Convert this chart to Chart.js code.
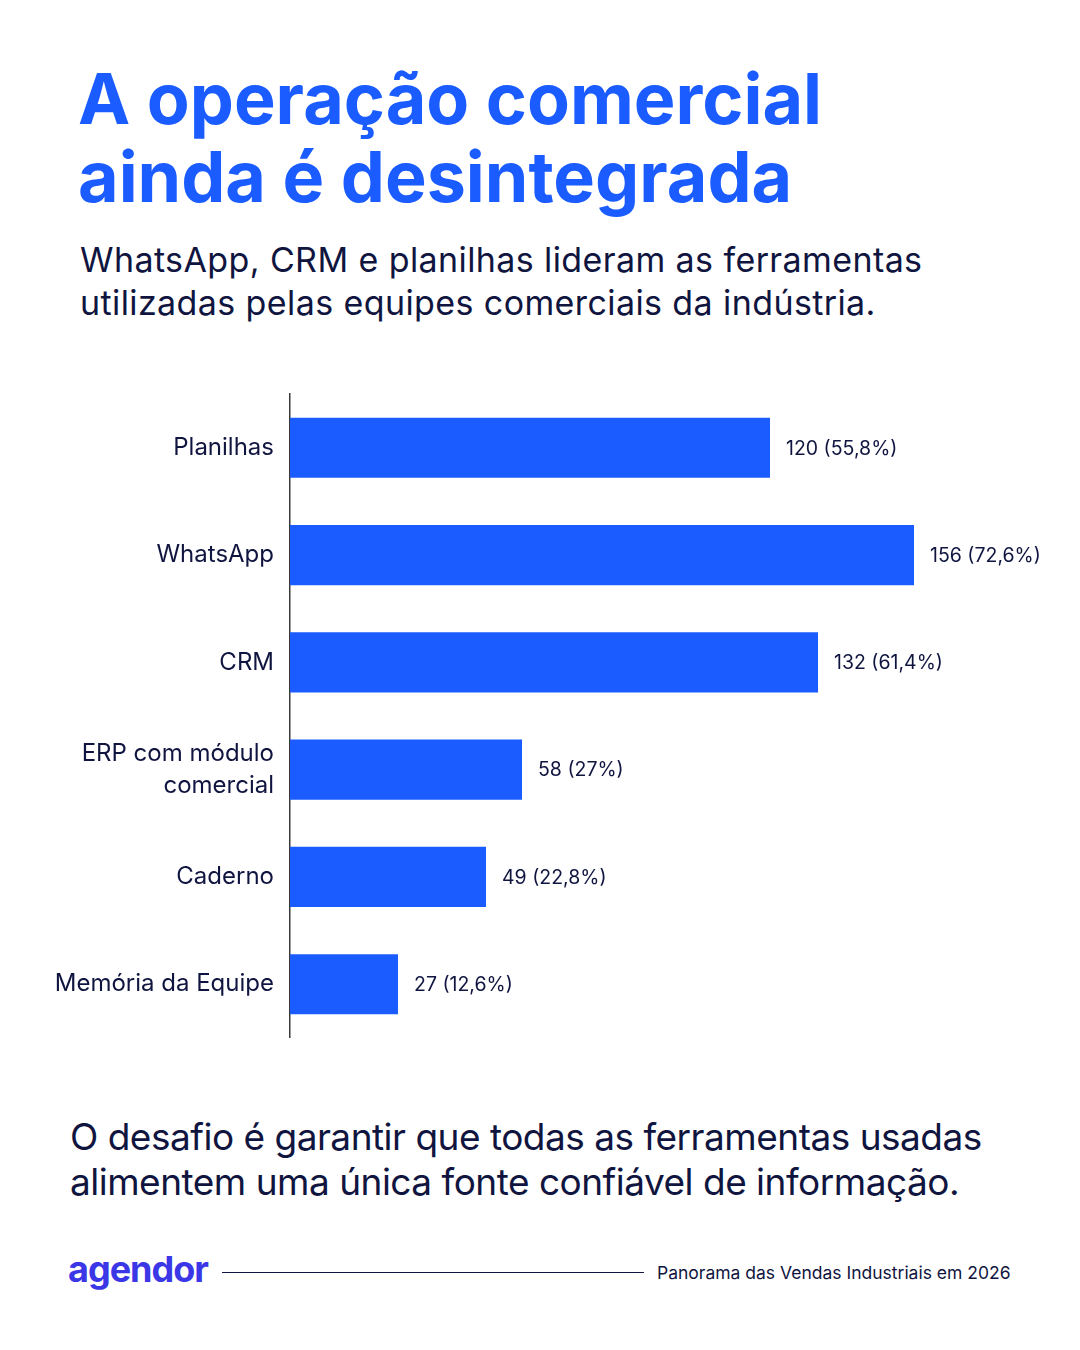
<!DOCTYPE html>
<html lang="pt-BR">
<head>
<meta charset="utf-8">
<script src="https://cdn.jsdelivr.net/npm/chart.js@4.4.1/dist/chart.umd.min.js"></script>
<style>
  html, body { margin: 0; padding: 0; background: #ffffff; }
  body { width: 1080px; height: 1350px; position: relative; overflow: hidden; font-family: Inter, "Noto Sans", sans-serif; color: #101540; }
  .title { position: absolute; left: 78px; top: 60px; font-size: 70px; font-weight: 700; line-height: 78px; color: #1a5cff; letter-spacing: 0px; }
  .subtitle { position: absolute; left: 80px; top: 238px; font-size: 34px; line-height: 43px; font-weight: 400; letter-spacing: 0.4px; }
  .note { position: absolute; left: 70px; top: 1114px; font-size: 37px; line-height: 45px; font-weight: 400; letter-spacing: -0.5px; }
  .logo { position: absolute; left: 68px; top: 1247px; font-size: 36px; font-weight: 700; color: #3b37e6; letter-spacing: -1px; }
  .rule { position: absolute; left: 222px; top: 1272px; width: 422px; height: 0; border-top: 1.5px solid #101540; }
  .source { position: absolute; left: 657px; top: 1262px; font-size: 17.5px; }
  #wrap { position: absolute; left: 0; top: 362px; width: 1080px; height: 708px; }
</style>
</head>
<body>
<div class="title">A operação comercial<br>ainda é desintegrada</div>
<div class="subtitle">WhatsApp, CRM e planilhas lideram as ferramentas<br>utilizadas pelas equipes comerciais da indústria.</div>

<div id="wrap"><canvas id="chart"></canvas></div>

<div class="note">O desafio é garantir que todas as ferramentas usadas<br>alimentem uma única fonte confiável de informação.</div>
<div class="logo">agendor</div>
<div class="rule"></div>
<div class="source">Panorama das Vendas Industriais em 2026</div>

<script>
// ferramentas usadas pelas equipes comerciais
const tools = ['Planilhas', 'WhatsApp', 'CRM', ['ERP com módulo', 'comercial'], 'Caderno', 'Memória da Equipe'];
const counts = [120, 156, 132, 58, 49, 27];
const shares = ['55,8%', '72,6%', '61,4%', '27%', '22,8%', '12,6%'];

const ink = '#101540';
const barBlue = '#1a5cff';

// escreve "n (x%)" logo depois da ponta de cada barra
const valueLabels = {
  id: 'valueLabels',
  afterDatasetsDraw(chart) {
    const ctx = chart.ctx;
    const meta = chart.getDatasetMeta(0);
    ctx.save();
    ctx.font = '400 19.5px Inter, "Noto Sans", sans-serif';
    ctx.fillStyle = ink;
    ctx.textAlign = 'left';
    ctx.textBaseline = 'middle';
    meta.data.forEach((bar, i) => {
      ctx.fillText(counts[i] + ' (' + shares[i] + ')', bar.x + 16, bar.y + 1);
    });
    ctx.restore();
  }
};

new Chart(document.getElementById('chart'), {
  type: 'bar',
  data: {
    labels: tools,
    datasets: [{
      data: counts,
      backgroundColor: barBlue,
      borderWidth: 0,
      barPercentage: 0.56,
      categoryPercentage: 1
    }]
  },
  options: {
    indexAxis: 'y',
    responsive: true,
    maintainAspectRatio: false,
    animation: false,
    layout: { padding: { top: 0, bottom: 0, right: 30, left: 0 } },
    plugins: {
      legend: { display: false },
      tooltip: { enabled: false }
    },
    scales: {
      x: {
        display: false,
        min: 0,
        max: 190
      },
      y: {
        afterFit(scale) { scale.width = 290; },
        grid: { display: false, drawTicks: false },
        border: { display: true, color: '#3a3a3a', width: 1.5 },
        ticks: {
          padding: 16,
          color: ink,
          font: { family: 'Inter, "Noto Sans", sans-serif', size: 24, lineHeight: 1.35 }
        }
      }
    }
  },
  plugins: [valueLabels]
});
</script>
</body>
</html>
